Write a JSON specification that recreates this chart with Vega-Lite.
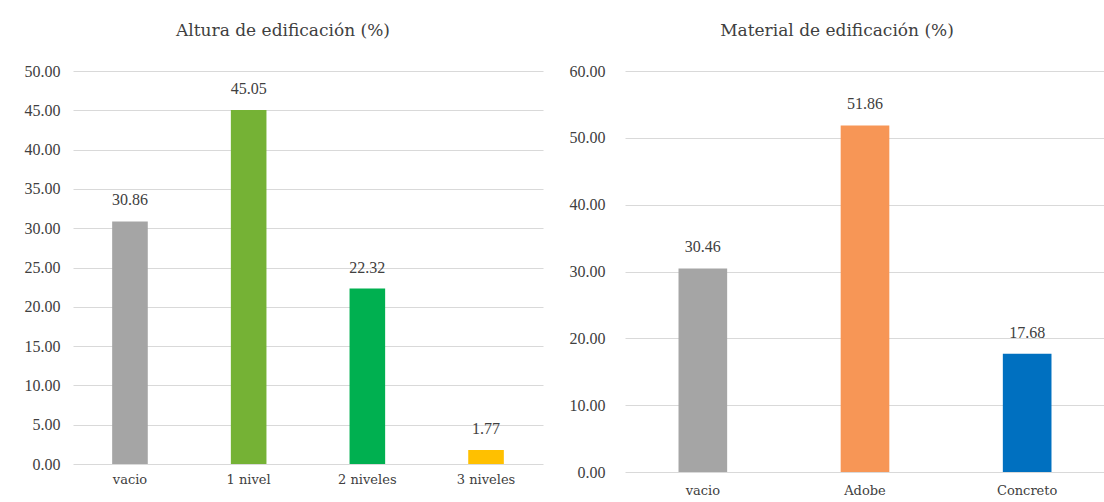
{
  "$schema": "https://vega.github.io/schema/vega-lite/v6.json",
  "background": "white",
  "padding": {"left": 23, "top": 22, "right": 0, "bottom": 0},
  "spacing": 26,
  "config": {
    "font": "Liberation Serif",
    "view": {"stroke": null},
    "title": {"font": "DejaVu Serif", "fontSize": 17, "fontWeight": "normal", "color": "#404040", "offset": 23, "anchor": "middle", "frame": "bounds"},
    "axis": {"labelFont": "Liberation Serif", "labelColor": "#404040", "ticks": false, "domain": false, "title": null, "gridColor": "#D9D9D9", "gridWidth": 1},
    "axisX": {"grid": false, "labelAngle": 0, "labelFontSize": 13, "labelFont": "DejaVu Serif"},
    "axisY": {"labelFontSize": 16, "labelPadding": 13, "format": ".2f", "minExtent": 50}
  },
  "hconcat": [
    {
      "title": "Altura de edificación (%)",
      "width": 470,
      "height": 393,
      "data": {"values": [
        {"categoria": "vacio", "valor": 30.86},
        {"categoria": "1 nivel", "valor": 45.05},
        {"categoria": "2 niveles", "valor": 22.32},
        {"categoria": "3 niveles", "valor": 1.77}
      ]},
      "encoding": {
        "x": {"field": "categoria", "type": "nominal", "sort": null, "scale": {"paddingInner": 0.7, "paddingOuter": 0.33}, "axis": {"labelPadding": 9}},
        "y": {"field": "valor", "type": "quantitative", "scale": {"domain": [0, 50]}, "axis": {"values": [0, 5, 10, 15, 20, 25, 30, 35, 40, 45, 50]}}
      },
      "layer": [
        {"mark": {"type": "bar"}, "encoding": {"color": {"field": "categoria", "type": "nominal", "legend": null, "scale": {"domain": ["vacio", "1 nivel", "2 niveles", "3 niveles"], "range": ["#A5A5A5", "#75B235", "#00B050", "#FFC000"]}}}},
        {"mark": {"type": "text", "dy": -21, "fontSize": 16, "color": "#404040", "font": "Liberation Serif"}, "encoding": {"text": {"field": "valor", "type": "quantitative", "format": ".2f"}}}
      ]
    },
    {
      "title": "Material de edificación (%)",
      "width": 480,
      "height": 401,
      "data": {"values": [
        {"categoria": "vacio", "valor": 30.46},
        {"categoria": "Adobe", "valor": 51.86},
        {"categoria": "Concreto", "valor": 17.68}
      ]},
      "encoding": {
        "x": {"field": "categoria", "type": "nominal", "sort": null, "scale": {"paddingInner": 0.7, "paddingOuter": 0.33}, "axis": {"labelPadding": 12}},
        "y": {"field": "valor", "type": "quantitative", "scale": {"domain": [0, 60]}, "axis": {"values": [0, 10, 20, 30, 40, 50, 60], "labelPadding": 20, "minExtent": 56}}
      },
      "layer": [
        {"mark": {"type": "bar"}, "encoding": {"color": {"field": "categoria", "type": "nominal", "legend": null, "scale": {"domain": ["vacio", "Adobe", "Concreto"], "range": ["#A5A5A5", "#F79656", "#0070C0"]}}}},
        {"mark": {"type": "text", "dy": -21, "fontSize": 16, "color": "#404040", "font": "Liberation Serif"}, "encoding": {"text": {"field": "valor", "type": "quantitative", "format": ".2f"}}}
      ]
    }
  ],
  "resolve": {"scale": {"color": "independent"}}
}
